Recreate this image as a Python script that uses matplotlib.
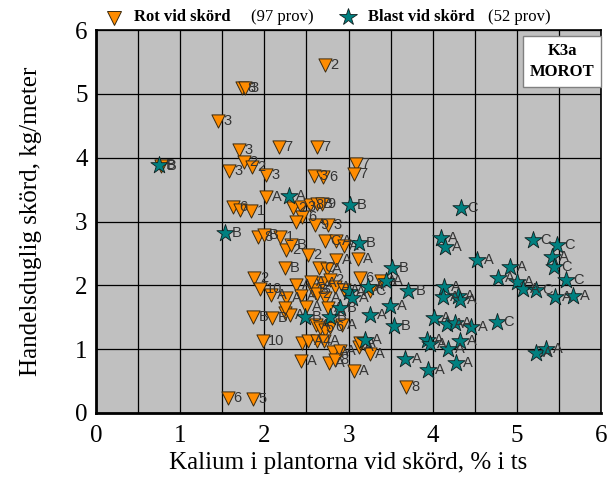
import matplotlib
matplotlib.use("Agg")
import matplotlib.pyplot as plt

# Rot vid skörd (triangles)
rot_k = [2.72, 1.73, 1.77, 1.45, 1.70, 2.17, 2.62, 1.76, 1.85, 1.58,
         2.02, 0.77, 2.59, 2.70, 3.09, 3.06, 2.02, 1.63, 1.71, 1.84,
         2.34, 2.44, 2.54, 2.63, 2.68, 2.45, 2.38, 2.60, 2.76, 1.93,
         1.99, 2.19, 2.26, 2.32, 2.52, 2.24, 1.88, 1.95, 2.08, 2.26,
         2.38, 2.44, 1.87, 2.09, 2.24, 2.30, 1.98, 2.44, 1.57, 1.86,
         3.68, 3.11, 3.13, 3.39, 3.25, 2.72, 2.85, 2.94, 2.65, 2.74,
         2.85, 2.58, 2.68, 2.78, 2.84, 2.62, 2.72, 2.24, 2.50, 2.76,
         2.61, 2.66, 2.72, 2.78, 2.92, 2.45, 2.52, 2.62, 2.71, 2.82,
         2.90, 2.77, 2.84, 3.06, 3.12, 3.14, 3.25, 2.95, 2.55]
rot_y = [5.45, 5.09, 5.09, 4.57, 4.12, 4.17, 4.17, 3.93, 3.86, 3.80,
         3.73, 3.87, 3.72, 3.70, 3.90, 3.75, 3.39, 3.23, 3.18, 3.17,
         3.21, 3.23, 3.26, 3.28, 3.28, 3.07, 3.00, 2.95, 2.95, 2.75,
         2.79, 2.75, 2.56, 2.63, 2.48, 2.27, 2.11, 1.94, 1.85, 1.80,
         2.00, 1.83, 1.50, 1.48, 1.56, 1.54, 1.12, 0.82, 0.24, 0.22,
         0.40, 2.42, 2.12, 2.07, 1.91, 2.69, 2.69, 2.61, 2.27, 2.25,
         2.39, 1.93, 2.03, 2.08, 1.98, 1.87, 1.80, 1.65, 1.66, 1.65,
         1.38, 1.33, 1.30, 1.35, 1.38, 1.09, 1.13, 1.12, 1.12, 0.95,
         0.97, 0.78, 0.83, 0.66, 1.04, 1.10, 0.92, 1.92, 2.05]
rot_lab = ["2", "8", "3", "3", "3", "7", "7", "2", "2", "3",
           "3", "B", "3", "6", "7", "7", "A", "6", "", "1",
           "2", "3", "8", "B", "9", "6", "", "9", "3", "8",
           "B", "1", "2", "B", "2", "B", "2", "10", "A", "A",
           "A", "A", "B", "B", "", "A", "10", "A", "6", "5",
           "8", "A", "6", "A", "C", "C", "A", "A", "C", "A",
           "A", "B", "A", "2", "A", "2", "A", "", "A", "A",
           "A", "5", "", "6", "A", "", "A", "4", "A", "A",
           "A", "A", "8", "A", "A", "A", "A", "A", "A"]

# Blast vid skörd (stars)
blast_k = [0.75, 2.29, 3.02, 1.53, 2.48, 2.78, 2.90, 4.33, 4.10, 4.15,
           4.53, 5.19, 5.48, 5.41, 5.44, 5.58, 4.92, 4.78, 5.00, 5.07,
           5.22, 5.45, 5.66, 4.13, 4.12, 4.30, 4.32, 3.51, 3.71, 3.49,
           3.25, 3.54, 4.02, 4.17, 4.26, 4.45, 4.76, 3.93, 3.97, 4.32,
           4.18, 3.67, 3.94, 4.28, 5.23, 5.35, 3.19, 3.45, 3.12, 3.23,
           3.00, 3.04]
blast_y = [3.89, 3.40, 3.26, 2.82, 1.51, 1.50, 1.64, 3.22, 2.74, 2.60,
           2.40, 2.71, 2.63, 2.44, 2.28, 2.08, 2.28, 2.11, 2.05, 1.94,
           1.92, 1.81, 1.84, 1.98, 1.81, 1.84, 1.77, 2.27, 1.91, 1.67,
           1.54, 1.37, 1.48, 1.39, 1.41, 1.35, 1.42, 1.15, 1.08, 1.13,
           1.00, 0.84, 0.68, 0.79, 0.94, 1.00, 1.15, 2.06, 2.66, 1.97,
           1.90, 1.80]
blast_lab = ["B", "A", "B", "B", "B", "B", "B", "C", "A", "A",
             "A", "C", "C", "A", "C", "C", "A", "A", "A", "A",
             "C", "A", "A", "A", "A", "A", "A", "B", "B", "A",
             "A", "B", "A", "A", "A", "A", "C", "A", "A", "A",
             "A", "A", "A", "A", "A", "A", "A", "A", "B", "A",
             "A", "A"]

serif = "Liberation Serif"
sans = "Liberation Sans"

fig = plt.figure(figsize=(6.11, 4.79), dpi=100)
ax = fig.add_axes([0.157, 0.138, 0.827, 0.799])
ax.set_facecolor("#c0c0c0")

ax.set_xlim(0, 6)
ax.set_ylim(0, 6)
ax.set_xticks(range(7))
ax.set_xticks([0.5 * i for i in range(13)], minor=True)
ax.set_yticks(range(7))
ax.grid(True, which="both", color="black", linewidth=0.9)
ax.set_axisbelow(True)
ax.tick_params(which="both", length=0, labelsize=18)
ax.tick_params(axis="x", pad=9)
ax.tick_params(axis="y", pad=6)
for t in ax.get_xticklabels() + ax.get_yticklabels():
    t.set_fontfamily(serif)
for s in ax.spines.values():
    s.set_linewidth(1.2)
ax.spines["left"].set_linewidth(2)
ax.spines["bottom"].set_linewidth(2)

ax.set_xlabel("Kalium i plantorna vid skörd, % i ts", fontsize=18,
              fontfamily=serif, labelpad=3)
ax.set_ylabel("Handelsduglig skörd, kg/meter", fontsize=18,
              fontfamily=serif, labelpad=24)

ax.scatter(rot_k, rot_y, marker="v", s=90, color="#ff8c00",
           edgecolors="#3a2a10", linewidths=0.7, zorder=3)
for x, y, t in zip(rot_k, rot_y, rot_lab):
    ax.annotate(t, (x, y), xytext=(4, 0), textcoords="offset points",
                va="center", ha="left", fontsize=10.5, fontfamily=sans,
                color="#333333", zorder=4)

ax.scatter(blast_k, blast_y, marker="*", s=170, color="#008080",
           edgecolors="#102020", linewidths=0.6, zorder=5)
for x, y, t in zip(blast_k, blast_y, blast_lab):
    ax.annotate(t, (x, y), xytext=(5, 0), textcoords="offset points",
                va="center", ha="left", fontsize=10.5, fontfamily=sans,
                color="#333333", zorder=6)

# legend row above the plot
W, H = 611, 479
ax.plot([114 / W], [1 - 18 / H], marker="v", ms=10, color="#ff8c00",
        mec="#3a2a10", mew=0.7, transform=fig.transFigure, clip_on=False)
fig.text(134 / W, 1 - 17 / H, "Rot vid skörd", fontsize=12, fontweight="bold",
         fontfamily=serif, va="center")
fig.text(251 / W, 1 - 17 / H, "(97 prov)", fontsize=12,
         fontfamily=serif, va="center")
ax.plot([348 / W], [1 - 17 / H], marker="*", ms=13, color="#008080",
        mec="#102020", mew=0.6, transform=fig.transFigure, clip_on=False)
fig.text(368 / W, 1 - 17 / H, "Blast vid skörd", fontsize=12, fontweight="bold",
         fontfamily=serif, va="center")
fig.text(488 / W, 1 - 17 / H, "(52 prov)", fontsize=12,
         fontfamily=serif, va="center")

# label box
ax.text(0.923, 0.918, "K3a\nMOROT", transform=ax.transAxes, ha="center",
        va="center", fontsize=12, fontweight="bold", fontfamily=serif,
        linespacing=1.4,
        bbox=dict(boxstyle="square,pad=0.4", facecolor="white",
                  edgecolor="#808080", linewidth=1), zorder=7)

fig.savefig("out.png", dpi=100)
